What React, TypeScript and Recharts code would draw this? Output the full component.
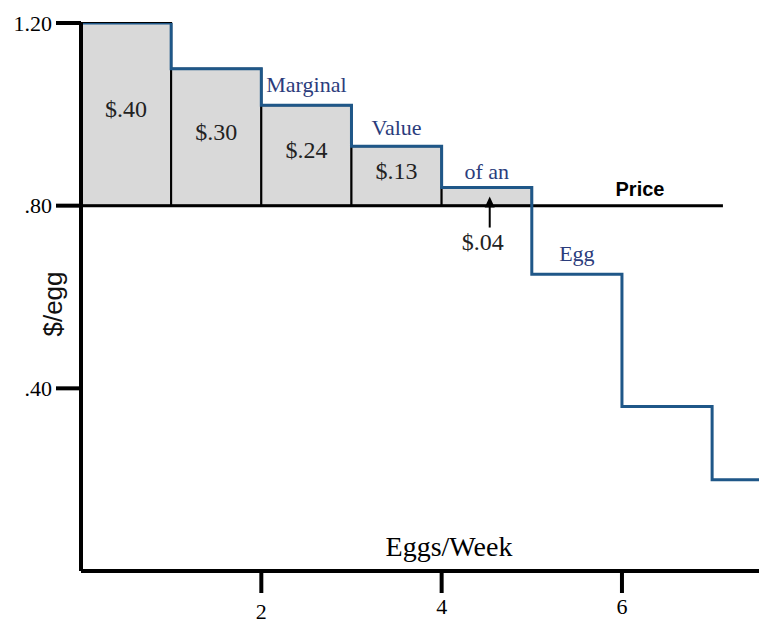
import {
  ComposedChart,
  Label,
  Line,
  ReferenceArea,
  ReferenceDot,
  ReferenceLine,
  XAxis,
  YAxis,
} from "recharts";

// eggs per week and the marginal value of each egg ($/egg)
const quantity = [0, 1, 2, 3, 4, 5, 6, 7];
const marginalValue = [1.2, 1.1, 1.02, 0.93, 0.84, 0.65, 0.36, 0.2];
const price = 0.8;
const priceLineEnd = 7.12;
const xMax = 7.52;

const surplusLabels = ["$.40", "$.30", "$.24", "$.13", "$.04"];
const curveWords = ["Marginal", "Value", "of an", "Egg"];
const curveWordSteps = [2, 3, 4, 5];

const xTicks = [2, 4, 6];
const yTicks = [0.4, 0.8, 1.2];
const yTickLabels = [".40", ".80", "1.20"];

// layout tweaks (pixels)
const curveWordLift = [-13, -11, -8, -13];
const priceLabelX = 6.2;

const BLUE_LINE = "#1f5788";
const BLUE_TEXT = "#2b3c7c";
const SERIF = "'Liberation Serif', 'Times New Roman', serif";
const SANS = "'Liberation Sans', Arial, sans-serif";

const lineData = quantity
  .map((q, i) => ({ q, mv: marginalValue[i] }))
  .concat({ q: xMax, mv: marginalValue[marginalValue.length - 1] });

function textNote(
  text: string,
  dx: number,
  dy: number,
  style: Record<string, any>
) {
  return ({ viewBox }: any) => (
    <text
      x={viewBox.x + (viewBox.width || 0) / 2 + dx}
      y={viewBox.y + (viewBox.height || 0) / 2 + dy}
      textAnchor="middle"
      {...style}
    >
      {text}
    </text>
  );
}

// the "2" sits a little lower than the others in the original
const XTick = ({ x, y, payload }: any) => (
  <text
    x={x}
    y={y + (payload.value === 2 ? 5 : 0)}
    dy="0.71em"
    textAnchor="middle"
    fontSize={22}
    fontFamily={SERIF}
    fill="#000"
  >
    {payload.value}
  </text>
);

const Arrow = ({ cx, cy }: any) => {
  const x = cx + 3;
  return (
    <g>
      <line x1={x} y1={cy + 8} x2={x} y2={cy + 31} stroke="#000" strokeWidth={2} />
      <polygon points={`${x},${cy} ${x - 5},${cy + 11} ${x + 5},${cy + 11}`} fill="#000" />
    </g>
  );
};

export default function App() {
  const surplusBars = surplusLabels.map((label, i) => ({
    label,
    x1: quantity[i],
    x2: quantity[i + 1],
    top: marginalValue[i],
  }));

  return (
    <div
      style={{
        position: "absolute",
        left: 0,
        top: 0,
        width: 759,
        height: 625,
        background: "#fff",
        fontFamily: SERIF,
        overflow: "hidden",
      }}
    >
      <ComposedChart
        width={759}
        height={625}
        data={lineData}
        margin={{ top: 23, right: 0, bottom: 0, left: 0 }}
      >
        <XAxis
          dataKey="q"
          type="number"
          domain={[0, xMax]}
          ticks={xTicks}
          height={54}
          tickSize={22}
          tickMargin={5}
          axisLine={{ stroke: "#000", strokeWidth: 4 }}
          tickLine={{ stroke: "#000", strokeWidth: 4 }}
          tick={<XTick />}
          allowDataOverflow
        >
          <Label
            value="Eggs/Week"
            position="top"
            offset={15}
            dx={29}
            fill="#000"
            fontSize={28}
            fontFamily={SERIF}
          />
        </XAxis>
        <YAxis
          type="number"
          domain={[0, 1.2]}
          ticks={yTicks}
          width={81}
          tickSize={25}
          tickMargin={4}
          tickFormatter={(v: number) => yTickLabels[yTicks.indexOf(v)] ?? ""}
          axisLine={{ stroke: "#000", strokeWidth: 4 }}
          tickLine={{ stroke: "#000", strokeWidth: 4 }}
          tick={{ fill: "#000", fontSize: 22, fontFamily: SERIF }}
          allowDataOverflow
        >
          <Label
            content={({ viewBox }: any) => (
              <text
                transform={`translate(${viewBox.x + 62}, ${viewBox.y + viewBox.height / 2 + 7}) rotate(-90)`}
                textAnchor="middle"
                fontSize={26}
                fontFamily={SANS}
                fill="#111"
              >
                $/egg
              </text>
            )}
          />
        </YAxis>

        {surplusBars.map((b, i) => (
          <ReferenceArea
            key={`bar-${i}`}
            x1={b.x1}
            x2={b.x2}
            y1={price}
            y2={b.top}
            fill="#d9d9d9"
            fillOpacity={1}
            stroke="#000"
            strokeWidth={2}
          />
        ))}

        <ReferenceLine
          segment={[
            { x: 0, y: price },
            { x: priceLineEnd, y: price },
          ]}
          stroke="#000"
          strokeWidth={3}
        />

        <Line
          dataKey="mv"
          type="stepAfter"
          stroke={BLUE_LINE}
          strokeWidth={3}
          strokeLinejoin="miter"
          dot={false}
          activeDot={false}
          isAnimationActive={false}
        />

        {surplusBars.map((b, i) => {
          const mid = (b.x1 + b.x2) / 2;
          const small = b.top - price < 0.06;
          return (
            <ReferenceDot
              key={`gain-${i}`}
              x={mid}
              y={small ? price : (b.top + price) / 2}
              r={0}
              fill="none"
              stroke="none"
              label={textNote(b.label, small ? -4 : 0, small ? 44 : 3, {
                fontSize: 24,
                fontFamily: SERIF,
                fill: "#222",
              })}
            />
          );
        })}

        {surplusBars
          .filter((b) => b.top - price < 0.06)
          .map((b, i) => (
            <ReferenceDot
              key={`arrow-${i}`}
              x={(b.x1 + b.x2) / 2}
              y={(b.top + price) / 2}
              r={0}
              shape={<Arrow />}
            />
          ))}

        {curveWords.map((w, i) => {
          const s = curveWordSteps[i];
          return (
            <ReferenceDot
              key={`word-${i}`}
              x={(quantity[s] + quantity[s + 1]) / 2}
              y={marginalValue[s]}
              r={0}
              fill="none"
              stroke="none"
              label={textNote(w, 0, curveWordLift[i], {
                fontSize: 22,
                fontFamily: SERIF,
                fill: BLUE_TEXT,
              })}
            />
          );
        })}

        <ReferenceDot
          x={priceLabelX}
          y={price}
          r={0}
          fill="none"
          stroke="none"
          label={textNote("Price", 0, -10, {
            fontSize: 20,
            fontFamily: SANS,
            fontWeight: "bold",
            fill: "#000",
          })}
        />
      </ComposedChart>
    </div>
  );
}
